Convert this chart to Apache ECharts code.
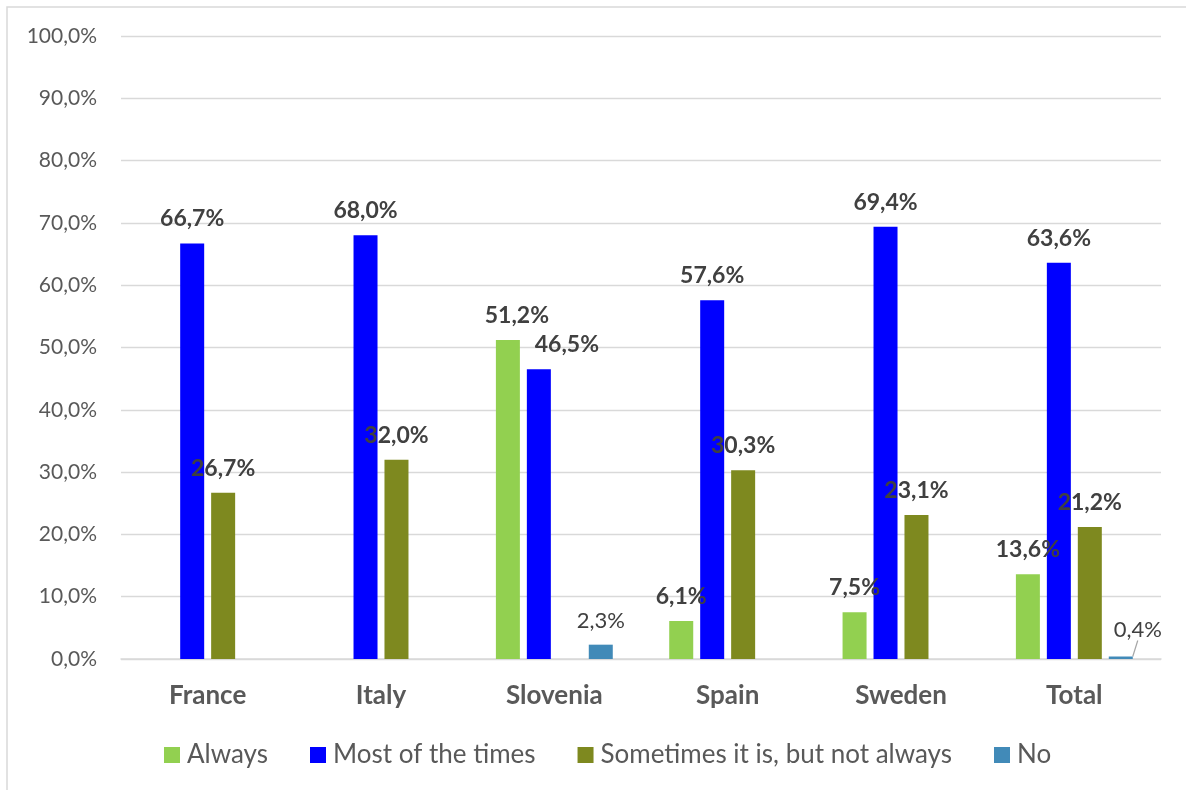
<!DOCTYPE html>
<html>
<head>
<meta charset="utf-8">
<title>Frequency by country</title>
<script src="https://cdn.jsdelivr.net/npm/echarts@6/dist/echarts.min.js"></script>
<style>
  html, body { margin: 0; padding: 0; background: #ffffff; }
  #chart { width: 1186px; height: 790px; }
</style>
</head>
<body>
<div id="chart"></div>
<script>
// Countries on the category axis
const categories = ['France', 'Italy', 'Slovenia', 'Spain', 'Sweden', 'Total'];

// Share of answers per country (percent); null = no answer in that class
const seriesNames = ['Always', 'Most of the times', 'Sometimes it is, but not always', 'No'];
const always    = [null, null, 51.2, 6.1, 7.5, 13.6];
const mostTimes = [66.7, 68.0, 46.5, 57.6, 69.4, 63.6];
const sometimes = [26.7, 32.0, null, 30.3, 23.1, 21.2];
const no        = [null, null, 2.3, null, null, 0.4];

// Y axis tick range (percent)
const yMin = 0, yMax = 100, yStep = 10;

const colors = ['#92d050', '#0000ff', '#7e891f', '#418ab8'];
const FONT = 'Lato';

const pct = v => v.toFixed(1).replace('.', ',') + '%';

// sideways nudges for labels that would collide with a neighbouring bar
const labelNudge = {
  'Always':            { Slovenia: 9 },
  'Most of the times': { Slovenia: 28 }
};

function barSeries(name, values, color, bold) {
  return {
    name: name,
    type: 'bar',
    barWidth: 24,
    barGap: '29%',
    itemStyle: { color: color },
    data: values.map(v => {
      if (v == null) return null;
      // very small bars get their label pushed aside with a leader line
      if (v < 1) return { value: v, labelLine: { show: true, lineStyle: { color: '#a6a6a6', width: 1.2 } } };
      return v;
    }),
    labelLayout: function (p) {
      const v = values[p.dataIndex];
      if (v != null && v < 1) return { dx: 17, dy: -3 };
      const n = labelNudge[name] && labelNudge[name][categories[p.dataIndex]];
      if (n) return { dx: n };
      return {};
    },
    label: {
      show: true,
      position: 'top',
      distance: 13,
      fontFamily: FONT,
      fontSize: bold ? 23 : 22,
      fontWeight: bold ? 'bold' : 'normal',
      color: '#404040',
      formatter: p => pct(p.value)
    }
  };
}

const chart = echarts.init(document.getElementById('chart'));
chart.setOption({
  animation: false,
  backgroundColor: '#ffffff',
  color: colors,
  graphic: [{
    type: 'rect',
    shape: { x: 7, y: 7, width: 1300, height: 900 },
    style: { fill: 'none', stroke: '#d9d9d9', lineWidth: 1.5 },
    silent: true
  }],
  grid: { left: 121, right: 25, top: 36, bottom: 131 },
  legend: {
    data: seriesNames,
    left: 159,
    top: 737,
    itemWidth: 16,
    itemHeight: 16,
    itemGap: 42,
    icon: 'rect',
    textStyle: { fontFamily: FONT, fontSize: 26, color: '#595959', padding: [0, 0, 0, 2] }
  },
  xAxis: {
    type: 'category',
    data: categories,
    axisLine: { lineStyle: { color: '#d9d9d9', width: 1.5 } },
    axisTick: { show: false },
    axisLabel: {
      margin: 24,
      fontFamily: FONT,
      fontSize: 26,
      fontWeight: 'bold',
      color: '#595959'
    }
  },
  yAxis: {
    type: 'value',
    min: yMin,
    max: yMax,
    interval: yStep,
    axisLine: { show: false },
    axisTick: { show: false },
    splitLine: { lineStyle: { color: '#d9d9d9', width: 1.3 } },
    axisLabel: {
      margin: 24,
      fontFamily: FONT,
      fontSize: 21,
      color: '#595959',
      formatter: v => pct(v)
    }
  },
  series: [
    barSeries(seriesNames[0], always, colors[0], true),
    barSeries(seriesNames[1], mostTimes, colors[1], true),
    barSeries(seriesNames[2], sometimes, colors[2], true),
    barSeries(seriesNames[3], no, colors[3], false)
  ]
});
</script>
</body>
</html>
